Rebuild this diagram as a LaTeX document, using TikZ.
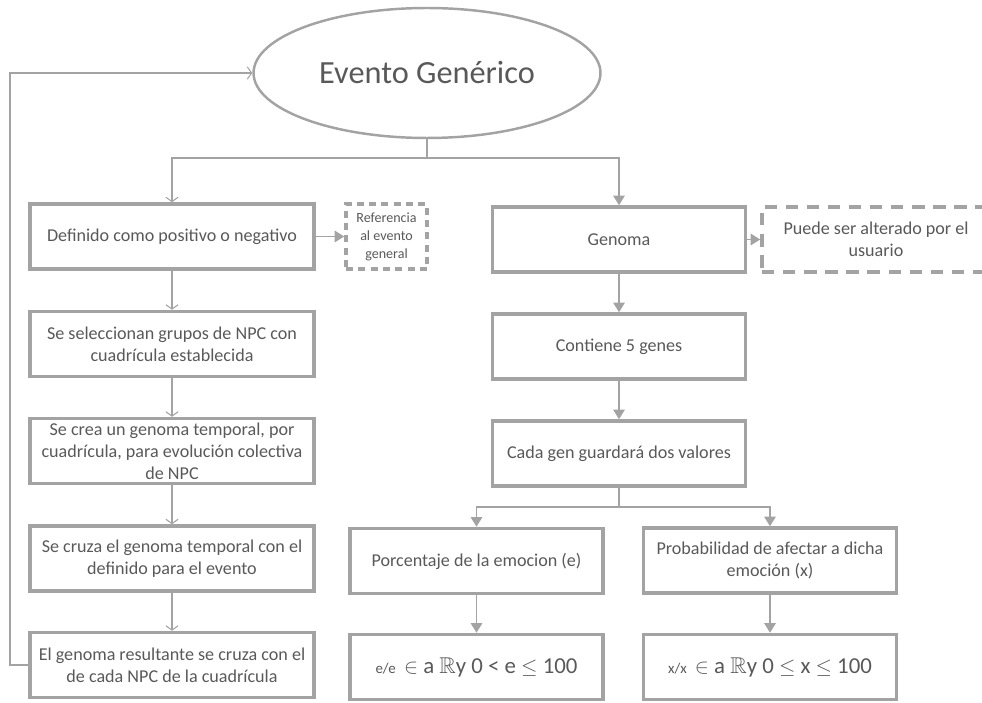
\documentclass[tikz,border=0pt]{standalone}
\usepackage{amsmath}
\usepackage{amssymb}
\usepackage{fontspec}
\setmainfont{Carlito}
\usetikzlibrary{arrows.meta,shapes.geometric}

\definecolor{linea}{HTML}{A3A3A3}
\definecolor{texto}{HTML}{595959}

\tikzset{
    caja/.style={draw=linea,line width=2pt,text=texto,align=center,inner sep=0pt,
        font=\fontsize{10.3}{12.5}\selectfont,minimum height=1.3cm},
    cajaizq/.style={caja,minimum width=5.68cm},
    cajader/.style={caja,minimum width=5.06cm},
    nota/.style={caja,dash pattern=on 4pt off 3pt},
    fina/.style={draw=linea,line width=0.6pt},
    gruesa/.style={draw=linea,line width=1.1pt},
    abierta/.style={fina,-{Straight Barb[length=2.5pt,width=7pt]}},
    llena/.style={gruesa,-{Triangle[length=5.5pt,width=6.5pt]}},
}

\begin{document}
\begin{tikzpicture}[x=0.02cm,y=-0.02cm]
    \useasboundingbox (0,0) rectangle (982,702);

    \node[ellipse,draw=linea,line width=1.4pt,text=texto,minimum width=6.94cm,minimum height=2.6cm,
        font=\fontsize{18.4}{20}\selectfont] (evento) at (427,73) {Evento Genérico};

    % columna izquierda
    \node[cajaizq] (definido) at (172,236.5) {Definido como positivo o negativo};
    \node[nota,minimum width=1.62cm,font=\fontsize{8}{10.2}\selectfont] (referencia) at (386.5,236.5)
        {Referencia\\al evento\\general};
    \node[cajaizq] (grupos) at (172,344) {Se seleccionan grupos de NPC con\\cuadrícula establecida};
    \node[cajaizq] (temporal) at (172,451) {Se crea un genoma temporal, por\\cuadrícula, para evolución colectiva\\de NPC};
    \node[cajaizq] (cruza) at (172,558.5) {Se cruza el genoma temporal con el\\definido para el evento};
    \node[cajaizq] (resultante) at (172,665) {El genoma resultante se cruza con el\\de cada NPC de la cuadrícula};

    % columna derecha
    \node[cajader] (genoma) at (619,239.5) {Genoma};
    \node[nota,dash pattern=on 7pt off 5pt,minimum width=4.56cm] (usuario) at (876,239.5)
        {Puede ser alterado por el\\usuario};
    \node[cajader] (genes) at (619,346.5) {Contiene 5 genes};
    \node[cajader] (valores) at (619,453.5) {Cada gen guardará dos valores};
    \node[cajader] (porcentaje) at (476.5,561) {Porcentaje de la emocion (e)};
    \node[cajader] (probabilidad) at (770,560.5) {Probabilidad de afectar a dicha\\emoción (x)};
    \node[cajader] (rangoe) at (476.5,667)
        {{\fontsize{8.5}{11}\selectfont e/e}\ \ {\fontsize{13}{16}\selectfont $\in$ a $\mathbb{R}$y 0 < e $\leq$ 100}};
    \node[cajader] (rangox) at (770,667)
        {{\fontsize{8.5}{11}\selectfont x/x}\ \ {\fontsize{13}{16}\selectfont $\in$ a $\mathbb{R}$y 0 $\leq$ x $\leq$ 100}};

    \coordinate (rama) at (427,158);
    \coordinate (rama2) at (619,507);
    \coordinate (esquina) at (10,665);

    \draw[fina] (evento.south) -- (rama);
    \draw[abierta] (rama) -| (definido.north);
    \draw[llena] (rama) -| (genoma.north);

    \draw[abierta] (definido) -- (grupos);
    \draw[abierta] (grupos) -- (temporal);
    \draw[abierta] (temporal) -- (cruza);
    \draw[abierta] (cruza) -- (resultante);
    \draw[abierta] (resultante.west) -- (esquina) |- (evento.west);
    \draw[llena] (definido) -- (referencia);

    \draw[llena] (genoma) -- (usuario);
    \draw[llena] (genoma) -- (genes);
    \draw[llena] (genes) -- (valores);
    \draw[fina] (valores.south) -- (rama2);
    \draw[llena] (rama2) -| (porcentaje.north);
    \draw[llena] (rama2) -| (probabilidad.north);
    \draw[llena] (porcentaje) -- (rangoe);
    \draw[llena] (probabilidad) -- (rangox);
\end{tikzpicture}
\end{document}
